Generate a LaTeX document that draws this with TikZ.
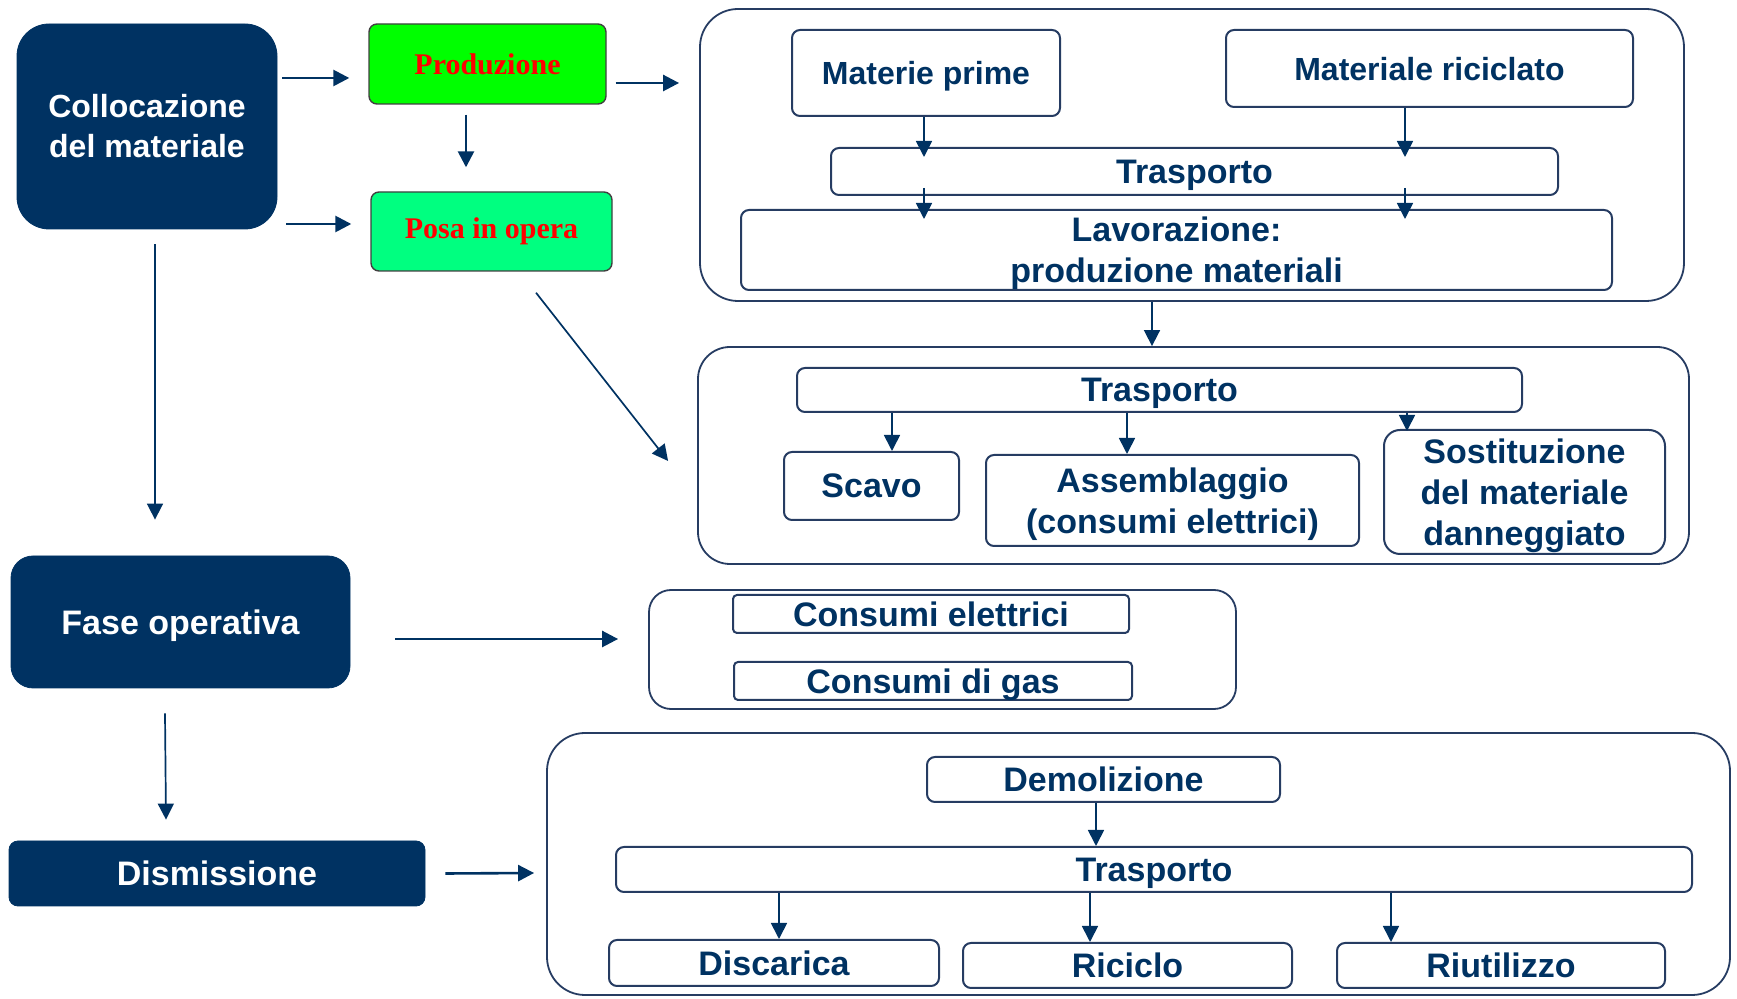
\documentclass[tikz,border=0pt]{standalone}
\usepackage{fontspec}
\setmainfont{Liberation Sans}
\newfontfamily\timesfont{Liberation Serif}
\usetikzlibrary{arrows.meta}
\definecolor{navy}{RGB}{0,50,98}
\definecolor{boxline}{RGB}{38,60,98}
\definecolor{prodgreen}{RGB}{0,255,0}
\definecolor{posagreen}{RGB}{0,255,128}

\begin{document}
\begin{tikzpicture}[x=0.5pt,y=-0.5pt,
  phase/.style={fill=navy,draw=navy,text=white,align=center,inner sep=0pt,font=\fontsize{17}{20}\selectfont\bfseries},
  stage/.style={draw=black!75,line width=0.7pt,rounded corners=4pt,text=red,inner sep=0pt,font=\timesfont\fontsize{15}{18}\selectfont\bfseries},
  group/.style={draw=boxline,line width=0.9pt,inner sep=0pt},
  item/.style={draw=boxline,line width=1pt,rounded corners=4pt,text=navy,align=center,inner sep=0pt,text depth=0pt,font=\fontsize{17}{20.5}\selectfont\bfseries},
  arr/.style={draw=navy,line width=1.3pt,-{Triangle[length=8pt,width=8pt]}},
  sarr/.style={draw=navy,line width=0.85pt,-{Triangle[length=8pt,width=8pt]}}]
\useasboundingbox (0,0) rectangle (1737,999);

% left column
\node[phase,rounded corners=16pt,minimum width=130pt,minimum height=102.5pt,font=\fontsize{16}{20}\selectfont\bfseries] (colloc) at (147,126.5) {Collocazione\\del materiale};
\node[phase,rounded corners=11pt,minimum width=169.5pt,minimum height=66pt,text depth=0pt] (fase) at (180.5,622) {Fase operativa};
\node[phase,rounded corners=4.5pt,minimum width=208pt,minimum height=32.5pt,text depth=0pt] (dism) at (217,873.5) {Dismissione};

\node[stage,fill=prodgreen,minimum width=118.5pt,minimum height=40pt] (prod) at (487.5,64) {Produzione};
\node[stage,fill=posagreen,minimum width=120.5pt,minimum height=39.5pt] (posa) at (491.5,231.5) {Posa in opera};

% groups
\node[group,rounded corners=19pt,minimum width=492pt,minimum height=146pt] (grp1) at (1192,155) {};
\node[group,rounded corners=16pt,minimum width=495.5pt,minimum height=108.5pt] (grp2) at (1193.5,455.5) {};
\node[group,rounded corners=11pt,minimum width=293.5pt,minimum height=59.5pt] (grp3) at (942.5,649.5) {};
\node[group,rounded corners=19pt,minimum width=591.5pt,minimum height=131pt] (grp4) at (1138.5,864) {};

% produzione
\node[item,minimum width=134pt,minimum height=43pt,font=\fontsize{16}{20}\selectfont\bfseries] (matprime) at (926,73) {Materie prime};
\node[item,minimum width=203.5pt,minimum height=38.5pt,font=\fontsize{16}{20}\selectfont\bfseries] (matric) at (1429.5,68.5) {Materiale riciclato};
\node[item,minimum width=363.5pt,minimum height=23.5pt] (trasp1) at (1194.5,171.5) {Trasporto};
\node[item,minimum width=435.5pt,minimum height=40pt] (lavor) at (1176.5,250) {Lavorazione:\\produzione materiali};

% posa in opera
\node[item,minimum width=362.5pt,minimum height=22pt] (trasp2) at (1159.5,390) {Trasporto};
\node[item,minimum width=87.5pt,minimum height=34pt] (scavo) at (871.5,486) {Scavo};
\node[item,minimum width=186.5pt,minimum height=45.5pt] (assembl) at (1172.5,500.5) {Assemblaggio\\(consumi elettrici)};
\node[item,minimum width=140.5pt,minimum height=62pt,rounded corners=8pt] (sostit) at (1524.5,492) {Sostituzione\\del materiale\\danneggiato};

% fase operativa
\node[item,minimum width=198pt,minimum height=19pt,rounded corners=2pt] (conel) at (931,614) {Consumi elettrici};
\node[item,minimum width=199pt,minimum height=19pt,rounded corners=2pt] (congas) at (933,681) {Consumi di gas};

% dismissione
\node[item,minimum width=176.5pt,minimum height=22.5pt] (demol) at (1103.5,779.5) {Demolizione};
\node[item,minimum width=538pt,minimum height=22.5pt] (trasp3) at (1154,869.5) {Trasporto};
\node[item,minimum width=165pt,minimum height=23pt] (disc) at (774,963) {Discarica};
\node[item,minimum width=164.5pt,minimum height=22.5pt] (ricic) at (1127.5,965.5) {Riciclo};
\node[item,minimum width=164pt,minimum height=22.5pt] (riut) at (1501,965.5) {Riutilizzo};

% arrows between phases
\draw[arr] ([xshift=2.5pt,yshift=24.25pt]colloc.east) -- ([xshift=-9.5pt,yshift=-7pt]prod.west);
\draw[arr] ([xshift=4.5pt,yshift=-9.5pt]prod.east) -- ([xshift=-10pt,yshift=36pt]grp1.west);
\draw[arr] ([xshift=-10.75pt,yshift=-5pt]prod.south) -- ([xshift=-12.75pt,yshift=12pt]posa.north);
\draw[arr] ([xshift=4.5pt,yshift=-48.75pt]colloc.east) -- ([xshift=-9.5pt,yshift=3.75pt]posa.west);
\draw[sarr] ([xshift=4pt,yshift=-7.5pt]colloc.south) -- ([xshift=-12.75pt,yshift=18pt]fase.north);
\draw[sarr] ([xshift=22.25pt,yshift=-10.5pt]posa.south) -- ([xshift=-14.5pt,yshift=-2.75pt]grp2.west);
\draw[arr] ([xshift=22.5pt,yshift=-8.5pt]fase.east) -- ([xshift=-15pt,yshift=5.25pt]grp3.west);
\draw[sarr] ([xshift=-7.75pt,yshift=-12.5pt]fase.south) -- ([xshift=-25.5pt,yshift=10.5pt]dism.north);
\draw[arr] ([xshift=10pt]dism.east) -- ([xshift=-6pt,yshift=-4.5pt]grp4.west);
\draw[sarr] ([xshift=-20pt]grp1.south) -- ([xshift=-20.75pt]grp2.north);

% arrows inside the groups
\draw[sarr,shorten >=-5pt] ([xshift=-1pt]matprime.south) -- ([xshift=-135.25pt]trasp1.north);
\draw[sarr,shorten >=-5pt] ([xshift=-12.25pt]matric.south) -- ([xshift=105.25pt]trasp1.north);
\draw[sarr,shorten >=-5pt] ([xshift=-135.25pt,yshift=4pt]trasp1.south) -- ([xshift=-126.25pt]lavor.north);
\draw[sarr,shorten >=-5pt] ([xshift=105.25pt,yshift=4pt]trasp1.south) -- ([xshift=114.25pt]lavor.north);
\draw[sarr] ([xshift=-133.75pt]trasp2.south) -- ([xshift=10.25pt]scavo.north);
\draw[sarr] ([xshift=-16.25pt]trasp2.south) -- ([xshift=-22.75pt]assembl.north);
\draw[sarr,shorten >=-1pt] ([xshift=123.75pt]trasp2.south) -- ([xshift=-58.75pt]sostit.north);
\draw[sarr] ([xshift=-3.75pt]demol.south) -- ([xshift=-29pt]trasp3.north);
\draw[sarr] ([xshift=-187.5pt]trasp3.south) -- ([xshift=2.5pt]disc.north);
\draw[sarr] ([xshift=-32pt]trasp3.south) -- ([xshift=-18.75pt]ricic.north);
\draw[sarr] ([xshift=118.5pt]trasp3.south) -- ([xshift=-55pt]riut.north);
\end{tikzpicture}
\end{document}
